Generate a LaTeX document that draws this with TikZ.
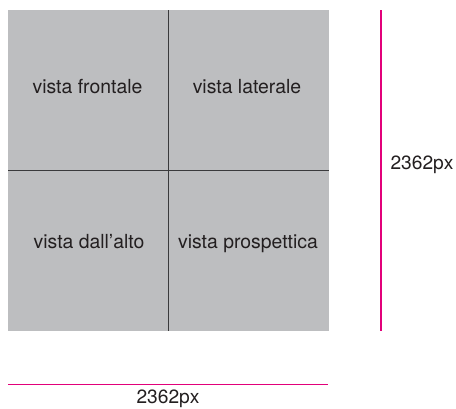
\documentclass[tikz,border=0pt]{standalone}
\usepackage{fontspec}
\setmainfont{TeX Gyre Heros}
\definecolor{panelgrey}{HTML}{BDBEC0}
\definecolor{dividergrey}{HTML}{3A3A3C}
\definecolor{dimmagenta}{HTML}{E2007A}
\definecolor{inkblack}{HTML}{231F20}
\begin{document}
\begin{tikzpicture}[
        x=0.5pt, y=-0.5pt,
        view/.style={anchor=base, inner sep=0pt, text=inkblack, font=\fontsize{9.7}{11}\selectfont},
        dimlabel/.style={anchor=base, inner sep=0pt, text=inkblack, font=\fontsize{9.6}{11}\selectfont},
        divider/.style={draw=dividergrey, line width=0.5pt},
        dimline/.style={draw=dimmagenta, line width=0.7pt}
    ]
        \useasboundingbox (0,0) rectangle (456,408);
        % Four viewports
        \fill[panelgrey] (8,10) rectangle (329,331);
        \draw[divider] (168.5,10) -- (168.5,331);
        \draw[divider] (8,170.5) -- (329,170.5);
        \foreach \x/\y/\name/\label in {
            87.5/93/front/vista frontale,
            247/93/side/vista laterale,
            89/248/top/vista dall'alto,
            248/248/persp/vista prospettica
        } {
            \node[view] (\name) at (\x,\y) {\label};
        }
        % Dimensions
        \coordinate (hleft) at (8,384.5);
        \coordinate (hright) at (328,384.5);
        \coordinate (vtop) at (381,10);
        \coordinate (vbottom) at (381,331);
        \draw[dimline] (hleft) -- (hright);
        \draw[dimline] (vtop) -- (vbottom);
        \node[dimlabel] (width) at (168,403) {2362px};
        \node[dimlabel] (height) at (422,169) {2362px};
    \end{tikzpicture}
\end{document}
